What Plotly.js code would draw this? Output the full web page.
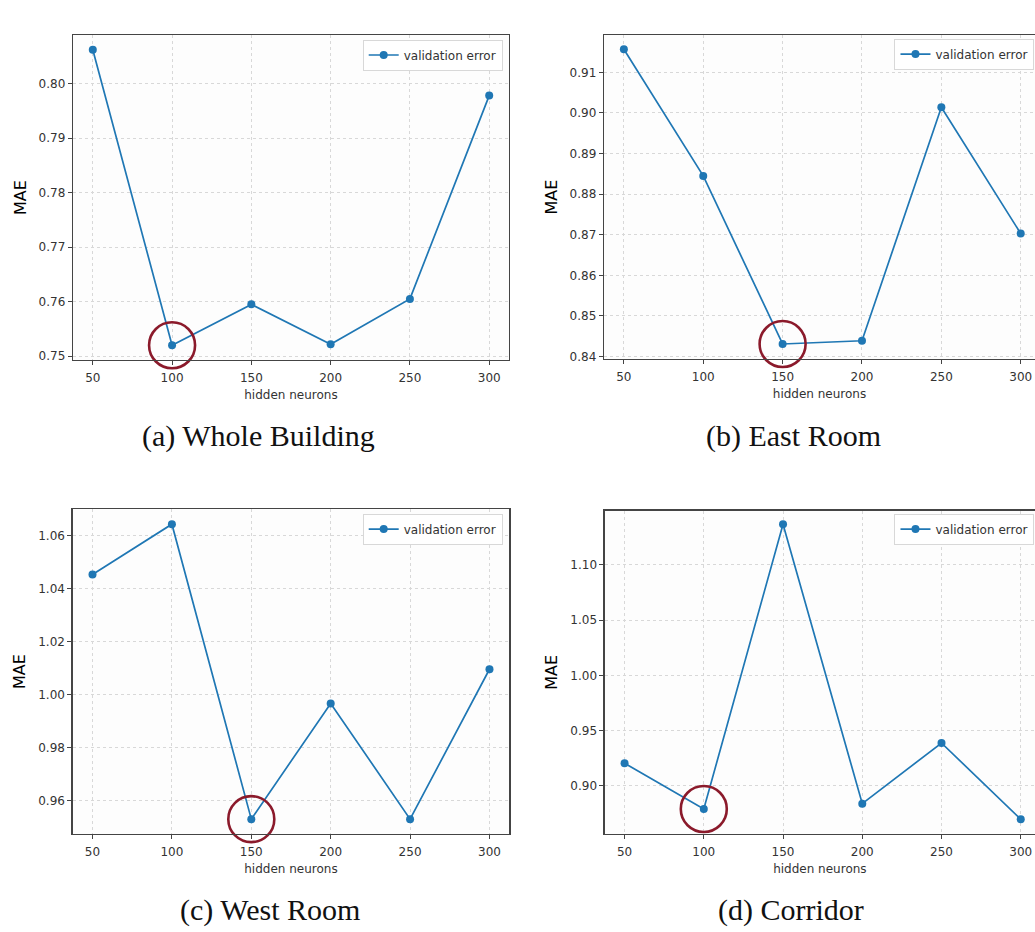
<!DOCTYPE html>
<html>
<head>
<meta charset="utf-8">
<script src="https://cdn.plot.ly/plotly-3.0.1.min.js"></script>
<style>html,body{margin:0;padding:0;background:#fff;}#chart{width:1035px;height:932px;}</style>
</head>
<body>
<div id="chart"></div>
<script>
const neurons = [50, 100, 150, 200, 250, 300];
const maeWhole = [0.8062, 0.7520, 0.7595, 0.7522, 0.7605, 0.7978];
const maeEast = [0.9157, 0.8845, 0.8431, 0.8439, 0.9014, 0.8703];
const maeWest = [1.0454, 1.0644, 0.9530, 0.9967, 0.9530, 1.0096];
const maeCorridor = [0.9205, 0.8792, 1.1368, 0.8840, 0.9389, 0.8699];
const captions = ['(a) Whole Building', '(b) East Room', '(c) West Room', '(d) Corridor'];
const bestNeurons = [100, 150, 150, 100];
const seriesName = 'validation error';
const xTitle = 'hidden neurons';
const yTitle = 'MAE';

const series = [maeWhole, maeEast, maeWest, maeCorridor];
const blue = '#1f77b4';
const red = '#8b1a2b';

const panels = [
  {xd: [0.0705, 0.4918], yd: [0.6137, 0.9624], xr: [37.5, 312.5], yr: [0.74929, 0.80891], dt: 0.01, ymirror: true,
   leg: {x: 0.4857, y: 0.9576}, cap: {x: 0.2493, y: 0.5322}},
  {xd: [0.5836, 1.0], yd: [0.6148, 0.9624], xr: [37.5, 309.0], yr: [0.8394, 0.9192], dt: 0.01, ymirror: false,
   leg: {x: 0.9995, y: 0.9586}, cap: {x: 0.7662, y: 0.5322}},
  {xd: [0.0702, 0.4921], yd: [0.1052, 0.4535], xr: [37.5, 312.5], yr: [0.9474, 1.0700], dt: 0.02, ymirror: true,
   leg: {x: 0.4857, y: 0.4490}, cap: {x: 0.2604, y: 0.0236}},
  {xd: [0.5843, 1.0], yd: [0.1052, 0.4520], xr: [37.5, 309.0], yr: [0.8566, 1.1491], dt: 0.05, ymirror: false,
   leg: {x: 0.9995, y: 0.4490}, cap: {x: 0.7643, y: 0.0236}}
];

const traces = [];
const layout = {
  width: 1035, height: 932,
  margin: {l: 0, r: 0, t: 0, b: 0},
  paper_bgcolor: '#ffffff',
  plot_bgcolor: '#fdfdfd',
  font: {family: 'DejaVu Sans, sans-serif', size: 12, color: '#333'},
  showlegend: true,
  annotations: []
};

panels.forEach((p, i) => {
  const n = i === 0 ? '' : String(i + 1);
  const legName = 'legend' + n;
  traces.push({
    x: neurons, y: series[i], type: 'scatter', mode: 'lines+markers',
    name: seriesName, xaxis: 'x' + n, yaxis: 'y' + n, legend: legName,
    line: {color: blue, width: 1.7},
    marker: {color: blue, size: 8}
  });
  const bi = neurons.indexOf(bestNeurons[i]);
  traces.push({
    x: [neurons[bi]], y: [series[i][bi]], type: 'scatter', mode: 'markers',
    xaxis: 'x' + n, yaxis: 'y' + n, showlegend: false, hoverinfo: 'skip',
    cliponaxis: false,
    marker: {symbol: 'circle-open', size: 46, color: red, line: {width: 2.6, color: red}}
  });
  layout['xaxis' + n] = {
    domain: p.xd, range: p.xr, anchor: 'y' + n,
    tickvals: neurons, ticks: 'outside', ticklen: 4, tickcolor: '#444',
    ticklabelstandoff: 2,
    showline: true, linecolor: '#444', linewidth: 1.3, mirror: true,
    showgrid: true, gridcolor: '#d8d8d8', griddash: 'dot', gridwidth: 1,
    zeroline: false, tickfont: {size: 12, color: '#333'},
    title: {text: xTitle, font: {size: 12, color: '#333'}, standoff: 7}
  };
  layout['yaxis' + n] = {
    domain: p.yd, range: p.yr, anchor: 'x' + n,
    dtick: p.dt, tick0: 0, tickformat: '.2f', ticks: 'outside', ticklen: 4, tickcolor: '#444',
    showline: true, linecolor: '#444', linewidth: 1.3, mirror: p.ymirror,
    showgrid: true, gridcolor: '#d8d8d8', griddash: 'dot', gridwidth: 1,
    zeroline: false, tickfont: {size: 12, color: '#333'},
    title: {text: yTitle, font: {size: 16, color: '#000'}, standoff: 8}
  };
  layout[legName] = {
    x: p.leg.x, y: p.leg.y, xanchor: 'right', yanchor: 'top',
    xref: 'paper', yref: 'paper',
    bgcolor: '#ffffff', bordercolor: '#d8d8d8', borderwidth: 1,
    font: {size: 12, color: '#333'}, itemwidth: 30
  };
  layout.annotations.push({
    text: captions[i], xref: 'paper', yref: 'paper', x: p.cap.x, y: p.cap.y,
    xanchor: 'center', yanchor: 'middle', showarrow: false,
    font: {family: 'Liberation Serif, serif', size: 30, color: '#111'}
  });
});

Plotly.newPlot('chart', traces, layout, {displayModeBar: false, staticPlot: true});
</script>
</body>
</html>
